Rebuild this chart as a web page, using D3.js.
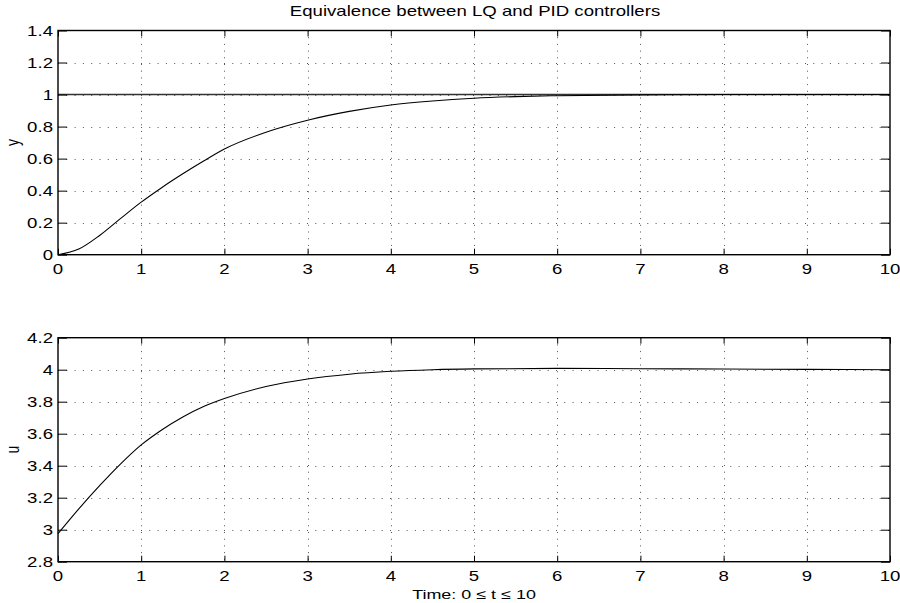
<!DOCTYPE html>
<html>
<head>
<meta charset="utf-8">
<script src="https://cdn.jsdelivr.net/npm/d3@7"></script>
<style>
  html, body { margin: 0; padding: 0; background: #fff; }
  svg { display: block; }
  text { font-family: "Liberation Sans", Arial, Helvetica, sans-serif; fill: #000; }
</style>
</head>
<body>
<svg id="chart" width="900" height="603"></svg>
<script>
// Closed-loop step response (output y) and control signal u
const timeY = [0, 0.25, 0.5, 0.75, 1, 1.25, 1.5, 1.75, 2, 2.5, 3, 3.5, 4, 4.5, 5, 5.5, 6, 7, 8, 9, 10];
const outputY = [0, 0.035, 0.12, 0.225, 0.328, 0.42, 0.505, 0.585, 0.66, 0.765, 0.84, 0.895, 0.935, 0.96, 0.977, 0.987, 0.993, 0.998, 1.0, 1.0, 1.0];
const referenceT = [0, 10];
const referenceY = [1, 1];

const timeU = [0, 0.25, 0.5, 0.75, 1, 1.25, 1.5, 1.75, 2, 2.5, 3, 3.5, 4, 4.5, 5, 6, 7, 8, 9, 10];
const controlU = [2.975, 3.13, 3.275, 3.41, 3.53, 3.625, 3.705, 3.77, 3.82, 3.895, 3.942, 3.972, 3.99, 4.0, 4.005, 4.008, 4.006, 4.004, 4.002, 4.0];

const xTicks = [0, 1, 2, 3, 4, 5, 6, 7, 8, 9, 10];
const yTicksTop = [0, 0.2, 0.4, 0.6, 0.8, 1, 1.2, 1.4];
const yTicksBottom = [2.8, 3, 3.2, 3.4, 3.6, 3.8, 4, 4.2];

const titleText = "Equivalence between LQ and PID controllers";
const xLabelText = "Time: 0 \u2264 t \u2264 10";

const svg = d3.select("#chart");
const SX = 1.33;          // horizontal stretch of the glyphs
const FS = 14;            // font size

function stretchedText(g, x, y, str, anchor) {
  return g.append("text")
    .attr("transform", `translate(${x},${y}) scale(${SX},1)`)
    .attr("text-anchor", anchor)
    .attr("font-size", FS)
    .text(str);
}

function panel(opts) {
  const left = 58, right = 890;
  const x = d3.scaleLinear().domain([0, 10]).range([left, right]);
  const y = d3.scaleLinear().domain(opts.yDomain).range([opts.bottom, opts.top]);
  const g = svg.append("g");

  // dotted grid
  const grid = g.append("g").attr("stroke", "#555").attr("stroke-width", 1).attr("fill", "none");
  xTicks.slice(1, -1).forEach(t => {
    grid.append("line")
      .attr("x1", Math.round(x(t)) + 0.5).attr("x2", Math.round(x(t)) + 0.5)
      .attr("y1", opts.top).attr("y2", opts.bottom)
      .attr("stroke-dasharray", "1,5.7");
  });
  opts.yTicks.slice(1, -1).forEach(v => {
    grid.append("line")
      .attr("x1", left).attr("x2", right)
      .attr("y1", Math.round(y(v)) + 0.5).attr("y2", Math.round(y(v)) + 0.5)
      .attr("stroke-dasharray", "1,7.3");
  });

  // data lines
  const line = d3.line().x(d => x(d[0])).y(d => y(d[1])).curve(d3.curveMonotoneX);
  opts.series.forEach(s => {
    g.append("path")
      .datum(d3.zip(s.t, s.v))
      .attr("d", line)
      .attr("fill", "none")
      .attr("stroke", s.color)
      .attr("stroke-width", s.width);
  });

  // axis box
  g.append("rect")
    .attr("x", left).attr("y", opts.top)
    .attr("width", right - left).attr("height", opts.bottom - opts.top)
    .attr("fill", "none").attr("stroke", "#000").attr("stroke-width", 1.4);

  // inward ticks via d3 axes
  const axB = d3.axisBottom(x).tickValues(xTicks).tickSizeInner(-6).tickSizeOuter(0).tickFormat("");
  const axT = d3.axisTop(x).tickValues(xTicks).tickSizeInner(-6).tickSizeOuter(0).tickFormat("");
  const axL = d3.axisLeft(y).tickValues(opts.yTicks).tickSizeInner(-9).tickSizeOuter(0).tickFormat("");
  const axR = d3.axisRight(y).tickValues(opts.yTicks).tickSizeInner(-9).tickSizeOuter(0).tickFormat("");
  [[axB, `translate(0,${opts.bottom})`], [axT, `translate(0,${opts.top})`],
   [axL, `translate(${left},0)`], [axR, `translate(${right},0)`]].forEach(([ax, tr]) => {
    const a = g.append("g").attr("transform", tr).call(ax);
    a.select(".domain").remove();
    a.selectAll("line").attr("stroke", "#000").attr("stroke-width", 1);
  });

  // tick labels
  xTicks.forEach(t => stretchedText(g, x(t), opts.bottom + 19, String(t), "middle"));
  opts.yTicks.forEach(v => stretchedText(g, 53, y(v) + 5, d3.format("~g")(v), "end"));

  // y label
  g.append("text")
    .attr("transform", `translate(19,${(opts.top + opts.bottom) / 2}) rotate(-90) scale(1,${SX})`)
    .attr("text-anchor", "middle")
    .attr("font-size", FS)
    .text(opts.yLabel);

  return { x, y };
}

panel({
  top: 30.5, bottom: 254.7, yDomain: [0, 1.4], yTicks: yTicksTop, yLabel: "y",
  series: [
    { t: referenceT, v: referenceY, color: "#333", width: 1.6 },
    { t: timeY, v: outputY, color: "#000", width: 1.1 }
  ]
});

panel({
  top: 337.7, bottom: 561.7, yDomain: [2.8, 4.2], yTicks: yTicksBottom, yLabel: "u",
  series: [
    { t: timeU, v: controlU, color: "#000", width: 1.1 }
  ]
});

stretchedText(svg, 475, 16, titleText, "middle").attr("font-size", 14);
stretchedText(svg, 474, 599, xLabelText, "middle").attr("font-size", 13.5);
</script>
</body>
</html>
